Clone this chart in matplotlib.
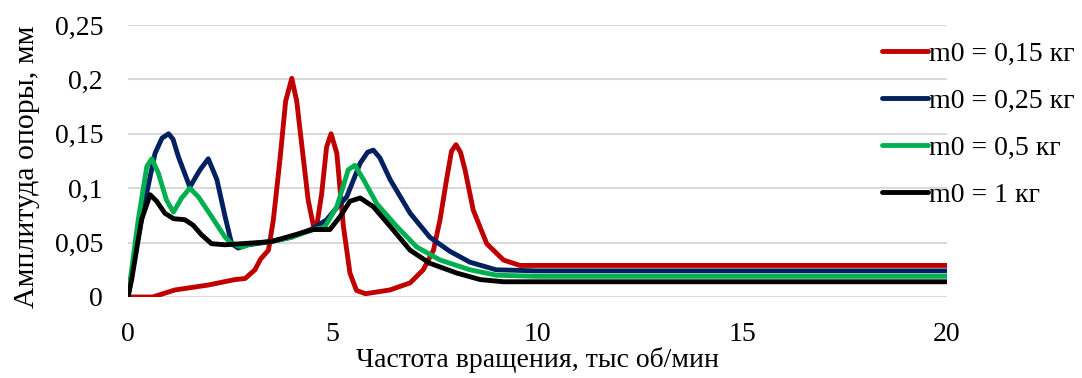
import matplotlib.pyplot as plt

# rotor speed, thousand rpm / support amplitude, mm
x_015 = [0, 0.6, 1.15, 1.96, 2.61, 2.86, 3.1, 3.24, 3.43, 3.55, 3.71, 3.85, 4.0, 4.12, 4.24, 4.4, 4.53, 4.62,
         4.73, 4.85, 4.96, 5.1, 5.26, 5.42, 5.58, 5.8, 6.4, 6.89, 7.21, 7.46, 7.62, 7.78, 7.9, 8.01, 8.12, 8.23,
         8.43, 8.76, 9.17, 9.57, 10.5, 20]
y_015 = [0, 0.0, 0.0065, 0.011, 0.016, 0.017, 0.025, 0.035, 0.043, 0.071, 0.126, 0.18, 0.201, 0.18, 0.141, 0.089,
         0.065, 0.068, 0.095, 0.138, 0.150, 0.132, 0.065, 0.022, 0.006, 0.003, 0.0065, 0.013, 0.025, 0.043, 0.071,
         0.108, 0.134, 0.14, 0.133, 0.117, 0.08, 0.049, 0.034, 0.029, 0.029, 0.029]

x_025 = [0, 0.2, 0.42, 0.66, 0.83, 0.99, 1.1, 1.23, 1.51, 1.76, 1.96, 2.17, 2.37, 2.53, 2.69, 2.94, 3.5, 4.0,
         4.52, 4.85, 5.05, 5.34, 5.67, 5.85, 5.99, 6.15, 6.4, 6.89, 7.37, 7.86, 8.35, 8.99, 10, 20]
y_025 = [0, 0.045, 0.089, 0.132, 0.146, 0.150, 0.145, 0.129, 0.101, 0.117, 0.127, 0.108, 0.074, 0.049, 0.045,
         0.048, 0.051, 0.055, 0.063, 0.071, 0.08, 0.092, 0.123, 0.133, 0.135, 0.128, 0.108, 0.077, 0.055, 0.042,
         0.032, 0.025, 0.024, 0.024]

x_05 = [0, 0.25, 0.46, 0.58, 0.74, 0.94, 1.11, 1.31, 1.51, 1.72, 2.04, 2.37, 2.53, 2.78, 3.0, 3.5, 4.0, 4.52,
        4.8, 5.1, 5.38, 5.54, 5.75, 6.07, 6.56, 7.05, 7.62, 8.35, 9.0, 10, 20]
y_05 = [0, 0.071, 0.12, 0.127, 0.114, 0.089, 0.078, 0.091, 0.100, 0.092, 0.074, 0.055, 0.049, 0.046, 0.049, 0.051,
        0.055, 0.062, 0.064, 0.083, 0.117, 0.121, 0.108, 0.086, 0.065, 0.046, 0.034, 0.025, 0.020, 0.019, 0.019]

x_1 = [0, 0.09, 0.33, 0.54, 0.7, 0.9, 1.11, 1.39, 1.59, 1.8, 2.04, 2.37, 2.78, 3.18, 3.5, 3.88, 4.52, 4.93,
       5.18, 5.42, 5.67, 5.99, 6.4, 6.89, 7.37, 8.03, 8.6, 9.17, 10, 20]
y_1 = [0, 0.016, 0.071, 0.094, 0.088, 0.077, 0.072, 0.071, 0.066, 0.057, 0.049, 0.048, 0.049, 0.050, 0.051,
       0.055, 0.062, 0.062, 0.074, 0.088, 0.091, 0.083, 0.065, 0.043, 0.031, 0.022, 0.016, 0.014, 0.014, 0.014]

labels = ["m0 = 0,15 кг", "m0 = 0,25 кг", "m0 = 0,5 кг", "m0 = 1 кг"]
colors = ["#C00000", "#002060", "#00B050", "#000000"]

plt.rcParams['font.family'] = ['Liberation Serif', 'DejaVu Serif']

fig = plt.figure(figsize=(10.82, 3.78), dpi=100)
ax = fig.add_axes([0.1183, 0.2143, 0.7569, 0.7196])

series = [(x_015, y_015), (x_025, y_025), (x_05, y_05), (x_1, y_1)]
for (xs, ys), lab, c in zip(series, labels, colors):
    ax.plot(xs, ys, color=c, lw=3.5, label=lab, solid_joinstyle='round', solid_capstyle='round')

ax.set_xlim(0, 20)
ax.set_ylim(0, 0.25)
ax.set_xticks([0, 5, 10, 15, 20])
ax.set_yticks([0, 0.05, 0.1, 0.15, 0.2, 0.25])
ax.set_xticklabels(["0", "5", "10", "15", "20"])
ax.set_yticklabels(["0", "0,05", "0,1", "0,15", "0,2", "0,25"])
ax.tick_params(length=0, labelsize=20)
ax.tick_params(axis='x', pad=18)
ax.tick_params(axis='y', pad=18)
ax.grid(axis='y', color='#D9D9D9', lw=1.5)
ax.set_axisbelow(True)
for s in ax.spines.values():
    s.set_visible(False)

ax.set_xlabel("Частота вращения, тыс об/мин", fontsize=20)
ax.xaxis.set_label_coords(0.5, -0.183)
ax.set_ylabel("Амплитуда опоры, мм", fontsize=21.5)
ax.yaxis.set_label_coords(-0.108, 0.48)

fig.legend(loc='upper left', bbox_to_anchor=(0.805, 0.92), frameon=False, fontsize=20,
           handlelength=1.65, handletextpad=0.05, labelspacing=0.78, borderaxespad=0)

fig.savefig("out.png", dpi=100)
